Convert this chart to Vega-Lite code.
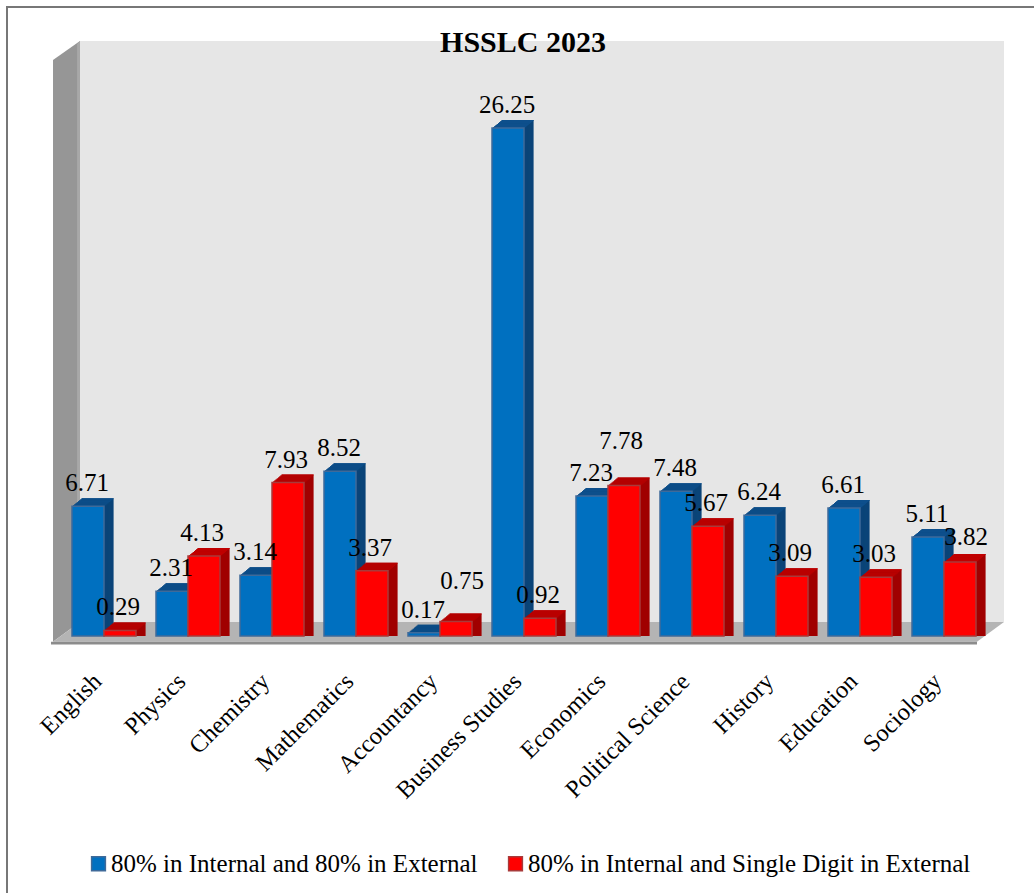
{"$schema":"https://vega.github.io/schema/vega-lite/v6.json","width":1032,"height":891,"autosize":"none","padding":{"left":7,"top":7,"right":0,"bottom":0},"background":"white","view":{"stroke":"#777777","strokeWidth":2,"fill":"white"},
"title":{"text":"HSSLC 2023","frame":"group","anchor":"middle","font":"Liberation Serif","fontSize":30,"fontWeight":"bold","color":"#000000","baseline":"alphabetic","offset":0,"dy":75},
"datasets":{"bars":[
{"n":1,"Subject":"English","s":"A","v":6.71},{"n":2,"Subject":"Physics","s":"A","v":2.31},{"n":3,"Subject":"Chemistry","s":"A","v":3.14},{"n":4,"Subject":"Mathematics","s":"A","v":8.52},{"n":5,"Subject":"Accountancy","s":"A","v":0.17},{"n":6,"Subject":"Business Studies","s":"A","v":26.25},{"n":7,"Subject":"Economics","s":"A","v":7.23},{"n":8,"Subject":"Political Science","s":"A","v":7.48},{"n":9,"Subject":"History","s":"A","v":6.24},{"n":10,"Subject":"Education","s":"A","v":6.61},{"n":11,"Subject":"Sociology","s":"A","v":5.11},
{"n":1,"Subject":"English","s":"B","v":0.29},{"n":2,"Subject":"Physics","s":"B","v":4.13},{"n":3,"Subject":"Chemistry","s":"B","v":7.93},{"n":4,"Subject":"Mathematics","s":"B","v":3.37},{"n":5,"Subject":"Accountancy","s":"B","v":0.75},{"n":6,"Subject":"Business Studies","s":"B","v":0.92},{"n":7,"Subject":"Economics","s":"B","v":7.78},{"n":8,"Subject":"Political Science","s":"B","v":5.67},{"n":9,"Subject":"History","s":"B","v":3.09},{"n":10,"Subject":"Education","s":"B","v":3.03},{"n":11,"Subject":"Sociology","s":"B","v":3.82}],
"frame":[{"part":"back","u":0.714,"top":30.75,"bot":0.72},{"part":"back","u":11.714,"top":30.75,"bot":0.72},
{"part":"side","u":0.393,"top":29.77,"bot":-0.295},{"part":"side","u":0.714,"top":30.75,"bot":0.72},
{"part":"edge","u":0.68,"top":30.6,"bot":0.72},{"part":"edge","u":0.714,"top":30.75,"bot":0.72},
{"part":"lip","u":0.369,"top":-0.295,"bot":-0.44},{"part":"lip","u":11.393,"top":-0.295,"bot":-0.44}],
"floor":[{"h":-0.295,"u1":0.393,"u2":11.393},{"h":0.72,"u1":0.714,"u2":11.714}]},
"data":{"name":"bars"},
"encoding":{"x":{"field":"n","type":"quantitative","axis":null,"scale":{"domain":[0,12],"range":[13,1021],"padding":0}},"y":{"field":"v","type":"quantitative","stack":null,"axis":null,"scale":{"domain":[0,30],"range":[629,48.5]}}},
"layer":[
{"data":{"name":"frame"},"transform":[{"filter":"datum.part==='back'"}],"mark":{"type":"area","fill":"#e6e6e6","opacity":1},"encoding":{"x":{"field":"u","type":"quantitative"},"y":{"field":"top","type":"quantitative"},"y2":{"field":"bot"}}},
{"data":{"name":"frame"},"transform":[{"filter":"datum.part==='side'"}],"mark":{"type":"area","fill":"#969696","opacity":1},"encoding":{"x":{"field":"u","type":"quantitative"},"y":{"field":"top","type":"quantitative"},"y2":{"field":"bot"}}},
{"data":{"name":"frame"},"transform":[{"filter":"datum.part==='edge'"}],"mark":{"type":"area","fill":"#a8a8a8","opacity":1},"encoding":{"x":{"field":"u","type":"quantitative"},"y":{"field":"top","type":"quantitative"},"y2":{"field":"bot"}}},
{"data":{"name":"floor"},"mark":{"type":"area","orient":"horizontal","fill":"#b4b4b4","opacity":1},"encoding":{"y":{"field":"h","type":"quantitative"},"x":{"field":"u1","type":"quantitative"},"x2":{"field":"u2"}}},
{"data":{"name":"frame"},"transform":[{"filter":"datum.part==='lip'"}],"mark":{"type":"area","fill":"#8c8c8c","opacity":1},"encoding":{"x":{"field":"u","type":"quantitative"},"y":{"field":"top","type":"quantitative"},"y2":{"field":"bot"}}},
{"transform":[{"filter":"datum.s==='A'"}],"layer":[
{"mark":{"type":"bar","orient":"vertical","width":32,"xOffset":-6.4,"yOffset":-8,"y2Offset":-8,"fill":"#0a4478"}},
{"mark":{"type":"bar","orient":"vertical","width":32,"xOffset":-6.4,"yOffset":-8,"y2Offset":-7,"fill":"#0d4f8c"},"encoding":{"y2":{"field":"v"}}},
{"mark":{"type":"bar","orient":"vertical","width":32,"xOffset":-7.6,"yOffset":-7,"y2Offset":-7,"fill":"#0a4478"}},
{"mark":{"type":"bar","orient":"vertical","width":32,"xOffset":-7.6,"yOffset":-7,"y2Offset":-6,"fill":"#0d4f8c"},"encoding":{"y2":{"field":"v"}}},
{"mark":{"type":"bar","orient":"vertical","width":32,"xOffset":-8.8,"yOffset":-6,"y2Offset":-6,"fill":"#0a4478"}},
{"mark":{"type":"bar","orient":"vertical","width":32,"xOffset":-8.8,"yOffset":-6,"y2Offset":-5,"fill":"#0d4f8c"},"encoding":{"y2":{"field":"v"}}},
{"mark":{"type":"bar","orient":"vertical","width":32,"xOffset":-10,"yOffset":-5,"y2Offset":-5,"fill":"#0a4478"}},
{"mark":{"type":"bar","orient":"vertical","width":32,"xOffset":-10,"yOffset":-5,"y2Offset":-4,"fill":"#0d4f8c"},"encoding":{"y2":{"field":"v"}}},
{"mark":{"type":"bar","orient":"vertical","width":32,"xOffset":-11.2,"yOffset":-4,"y2Offset":-4,"fill":"#0a4478"}},
{"mark":{"type":"bar","orient":"vertical","width":32,"xOffset":-11.2,"yOffset":-4,"y2Offset":-3,"fill":"#0d4f8c"},"encoding":{"y2":{"field":"v"}}},
{"mark":{"type":"bar","orient":"vertical","width":32,"xOffset":-12.4,"yOffset":-3,"y2Offset":-3,"fill":"#0a4478"}},
{"mark":{"type":"bar","orient":"vertical","width":32,"xOffset":-12.4,"yOffset":-3,"y2Offset":-2,"fill":"#0d4f8c"},"encoding":{"y2":{"field":"v"}}},
{"mark":{"type":"bar","orient":"vertical","width":32,"xOffset":-13.6,"yOffset":-2,"y2Offset":-2,"fill":"#0a4478"}},
{"mark":{"type":"bar","orient":"vertical","width":32,"xOffset":-13.6,"yOffset":-2,"y2Offset":-1,"fill":"#0d4f8c"},"encoding":{"y2":{"field":"v"}}},
{"mark":{"type":"bar","orient":"vertical","width":32,"xOffset":-14.8,"yOffset":-1,"y2Offset":-1,"fill":"#0a4478"}},
{"mark":{"type":"bar","orient":"vertical","width":32,"xOffset":-14.8,"yOffset":-1,"y2Offset":0,"fill":"#0d4f8c"},"encoding":{"y2":{"field":"v"}}},
{"mark":{"type":"bar","orient":"vertical","width":32,"xOffset":-16,"strokeWidth":1.5},"encoding":{"fill":{"field":"s","type":"nominal","scale":{"domain":["A","B"],"range":["#0070c0","#ff0000"]},"legend":{"orient":"none","legendX":79,"legendY":844,"direction":"horizontal","columns":2,"title":null,"labelExpr":"datum.label==='A'?'80% in Internal and 80% in External':'80% in Internal and Single Digit in External'","labelFont":"Liberation Serif","labelFontSize":25,"labelColor":"#000000","labelLimit":500,"symbolType":"square","symbolSize":190,"symbolStrokeWidth":1.5,"columnPadding":25,"labelOffset":0}},"stroke":{"field":"s","type":"nominal","scale":{"domain":["A","B"],"range":["#3f6a99","#a83a3a"]}}}}
]},
{"transform":[{"filter":"datum.s==='B'"}],"layer":[
{"mark":{"type":"bar","orient":"vertical","width":32,"xOffset":25.6,"yOffset":-8,"y2Offset":-8,"fill":"#a00000"}},
{"mark":{"type":"bar","orient":"vertical","width":32,"xOffset":25.6,"yOffset":-8,"y2Offset":-7,"fill":"#c00000"},"encoding":{"y2":{"field":"v"}}},
{"mark":{"type":"bar","orient":"vertical","width":32,"xOffset":24.4,"yOffset":-7,"y2Offset":-7,"fill":"#a00000"}},
{"mark":{"type":"bar","orient":"vertical","width":32,"xOffset":24.4,"yOffset":-7,"y2Offset":-6,"fill":"#c00000"},"encoding":{"y2":{"field":"v"}}},
{"mark":{"type":"bar","orient":"vertical","width":32,"xOffset":23.2,"yOffset":-6,"y2Offset":-6,"fill":"#a00000"}},
{"mark":{"type":"bar","orient":"vertical","width":32,"xOffset":23.2,"yOffset":-6,"y2Offset":-5,"fill":"#c00000"},"encoding":{"y2":{"field":"v"}}},
{"mark":{"type":"bar","orient":"vertical","width":32,"xOffset":22,"yOffset":-5,"y2Offset":-5,"fill":"#a00000"}},
{"mark":{"type":"bar","orient":"vertical","width":32,"xOffset":22,"yOffset":-5,"y2Offset":-4,"fill":"#c00000"},"encoding":{"y2":{"field":"v"}}},
{"mark":{"type":"bar","orient":"vertical","width":32,"xOffset":20.8,"yOffset":-4,"y2Offset":-4,"fill":"#a00000"}},
{"mark":{"type":"bar","orient":"vertical","width":32,"xOffset":20.8,"yOffset":-4,"y2Offset":-3,"fill":"#c00000"},"encoding":{"y2":{"field":"v"}}},
{"mark":{"type":"bar","orient":"vertical","width":32,"xOffset":19.6,"yOffset":-3,"y2Offset":-3,"fill":"#a00000"}},
{"mark":{"type":"bar","orient":"vertical","width":32,"xOffset":19.6,"yOffset":-3,"y2Offset":-2,"fill":"#c00000"},"encoding":{"y2":{"field":"v"}}},
{"mark":{"type":"bar","orient":"vertical","width":32,"xOffset":18.4,"yOffset":-2,"y2Offset":-2,"fill":"#a00000"}},
{"mark":{"type":"bar","orient":"vertical","width":32,"xOffset":18.4,"yOffset":-2,"y2Offset":-1,"fill":"#c00000"},"encoding":{"y2":{"field":"v"}}},
{"mark":{"type":"bar","orient":"vertical","width":32,"xOffset":17.2,"yOffset":-1,"y2Offset":-1,"fill":"#a00000"}},
{"mark":{"type":"bar","orient":"vertical","width":32,"xOffset":17.2,"yOffset":-1,"y2Offset":0,"fill":"#c00000"},"encoding":{"y2":{"field":"v"}}},
{"mark":{"type":"bar","orient":"vertical","width":32,"xOffset":16,"strokeWidth":1.5},"encoding":{"fill":{"field":"s","type":"nominal"},"stroke":{"field":"s","type":"nominal"}}}
]},
{"transform":[{"filter":"datum.s==='A'"}],"mark":{"type":"text","font":"Liberation Serif","fontSize":25,"color":"#000000","baseline":"middle","xOffset":-17,"yOffset":-23},"encoding":{"text":{"field":"v","type":"quantitative","format":".2f"}}},
{"transform":[{"filter":"datum.s==='B' && datum.v!==0.75 && datum.v!==7.78 && datum.v!==3.82"}],"mark":{"type":"text","font":"Liberation Serif","fontSize":25,"color":"#000000","baseline":"middle","xOffset":14,"yOffset":-23},"encoding":{"text":{"field":"v","type":"quantitative","format":".2f"}}},
{"transform":[{"filter":"datum.s==='B' && datum.v===0.75"}],"mark":{"type":"text","font":"Liberation Serif","fontSize":25,"color":"#000000","baseline":"middle","xOffset":22,"yOffset":-40},"encoding":{"text":{"field":"v","type":"quantitative","format":".2f"}}},
{"transform":[{"filter":"datum.s==='B' && datum.v===7.78"}],"mark":{"type":"text","font":"Liberation Serif","fontSize":25,"color":"#000000","baseline":"middle","xOffset":13,"yOffset":-44},"encoding":{"text":{"field":"v","type":"quantitative","format":".2f"}}},
{"transform":[{"filter":"datum.s==='B' && datum.v===3.82"}],"mark":{"type":"text","font":"Liberation Serif","fontSize":25,"color":"#000000","baseline":"middle","xOffset":22,"yOffset":-25},"encoding":{"text":{"field":"v","type":"quantitative","format":".2f"}}},
{"transform":[{"filter":"datum.s==='A'"}],"mark":{"type":"text","font":"Liberation Serif","fontSize":24.5,"color":"#000000","angle":315,"align":"right","baseline":"middle","xOffset":-6,"yOffset":42},"encoding":{"text":{"field":"Subject","type":"nominal"},"y":{"datum":0,"type":"quantitative"}}}
]}
